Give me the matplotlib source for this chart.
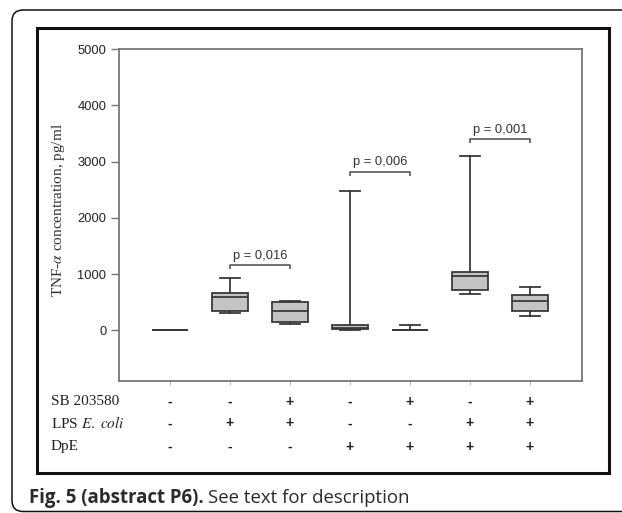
import matplotlib
matplotlib.use("Agg")
import matplotlib.pyplot as plt
from matplotlib.patches import FancyBboxPatch, Rectangle
from matplotlib.transforms import IdentityTransform, blended_transform_factory

plt.rcParams['mathtext.fontset'] = 'stix'

# Box statistics per group (TNF-alpha, pg/ml)
positions = [1, 2, 3, 4, 5, 6, 7]
whislo = [0, 315, 108, 0, 0, 647, 261]
q1 = [0, 345, 155, 20, 0, 713, 339]
med = [0, 588, 345, 50, 0, 961, 528]
q3 = [0, 665, 510, 90, 0, 1038, 634]
whishi = [0, 931, 528, 2472, 101, 3099, 777]

# Significance brackets: (left group, right group, label)
pairs = [(2, 3), (4, 5), (6, 7)]
p_labels = ["p = 0,016", "p = 0,006", "p = 0,001"]
bracket_y = [1157, 2815, 3396]

# Treatment table below the plot
row_names = ["SB 203580", r"LPS $\it{E.\ coli}$", "DpE"]
sb = ["-", "-", "+", "-", "+", "-", "+"]
lps = ["-", "+", "+", "-", "-", "+", "+"]
dpe = ["-", "-", "-", "+", "+", "+", "+"]

yticks = [0, 1000, 2000, 3000, 4000, 5000]

W, H = 622, 513
fig = plt.figure(figsize=(W / 100, H / 100), dpi=100)
fig.patch.set_facecolor("white")

ax = fig.add_axes([119 / W, 1 - 381 / H, (582 - 119) / W, (381 - 49) / H])

stats = []
for i in range(len(positions)):
    stats.append(dict(whislo=whislo[i], q1=q1[i], med=med[i], q3=q3[i],
                      whishi=whishi[i], fliers=[]))

line_col = "#3a3a3a"
ax.bxp(stats, positions=positions, widths=0.6, capwidths=0.33,
       patch_artist=True, showfliers=False,
       boxprops=dict(facecolor="#c4c4c4", edgecolor=line_col, linewidth=1.3),
       medianprops=dict(color=line_col, linewidth=1.3),
       whiskerprops=dict(color=line_col, linewidth=1.3),
       capprops=dict(color=line_col, linewidth=1.3))

drop = 70
for (a, b), lab, y in zip(pairs, p_labels, bracket_y):
    ax.plot([a, a, b, b], [y - drop, y, y, y - drop], color="#555555",
            linewidth=1.2, solid_capstyle="butt")
    ax.text((a + b) / 2, y + 170, lab, ha="center", va="center",
            fontsize=9.3, family="Liberation Sans", color="#333333")

ax.set_xlim(0.15, 7.87)
ax.set_ylim(-900, 5000)
ax.set_yticks(yticks)
ax.set_yticklabels([str(v) for v in yticks], family="Liberation Sans",
                   fontsize=9.3, color="#222222")
ax.set_xticks(positions)
ax.set_xticklabels([])
ax.tick_params(axis="y", direction="out", length=6, width=1, color="#777777", pad=3)
ax.tick_params(axis="x", direction="out", length=3, width=0.8, color="#bbbbbb")
for sp in ax.spines.values():
    sp.set_color("#777777")
    sp.set_linewidth(1.3)

ax.set_ylabel(r"TNF-$\alpha$ concentration, pg/ml", family="Liberation Serif",
              fontsize=11, color="#333333")
ax.yaxis.set_label_coords(-0.113, 0.515)

# Treatment rows
trans = blended_transform_factory(ax.transData, fig.transFigure)
row_y = [1 - 401.7 / H, 1 - 423.3 / H, 1 - 446.7 / H]
for name, signs, y in zip(row_names, [sb, lps, dpe], row_y):
    fig.text(51 / W, y, name, ha="left", va="center", family="Liberation Serif",
             fontsize=11, color="#222222")
    for x, s in zip(positions, signs):
        ax.text(x, y, s, transform=trans, ha="center", va="center",
                fontsize=10, fontweight="bold", family="Liberation Sans",
                color="#222222")

# Frames
outer = FancyBboxPatch((12, 1.5), 700, 501.5, boxstyle="round,pad=0,rounding_size=11",
                       transform=IdentityTransform(), facecolor="none",
                       edgecolor="#111111", linewidth=1.1)
fig.add_artist(outer)
inner = Rectangle((37, H - 473), 572, 445, transform=IdentityTransform(),
                  facecolor="none", edgecolor="#111111", linewidth=2.2)
fig.add_artist(inner)

# Caption
cap_y = 1 - 503 / H
t1 = fig.text(29 / W, cap_y, "Fig. 5 (abstract P6).", family="Open Sans",
              fontweight="bold", fontsize=13.4, color="#2a2a2a", va="baseline")
fig.canvas.draw()
bb = t1.get_window_extent(fig.canvas.get_renderer())
fig.text((bb.x1 + 4) / W, cap_y, "See text for description", family="Open Sans",
         fontsize=13.4, color="#2a2a2a", va="baseline")

fig.savefig("out.png", dpi=100, facecolor="white")
